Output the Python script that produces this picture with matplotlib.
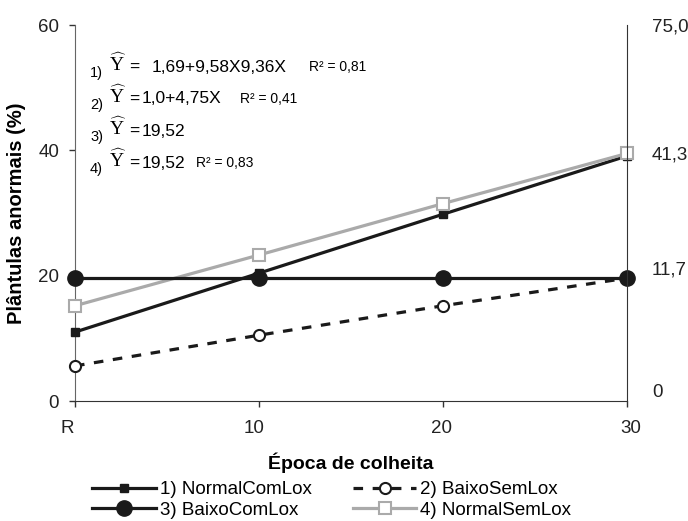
import matplotlib
matplotlib.use("Agg")
import matplotlib.pyplot as plt
import matplotlib.transforms as mtransforms

plt.rcParams['font.family'] = ['Liberation Sans', 'DejaVu Sans']
plt.rcParams['mathtext.fontset'] = 'custom'
plt.rcParams['mathtext.rm'] = 'Liberation Serif'

epocas = [0, 10, 20, 30]
xlabels = ['R', '10', '20', '30']
normal_com_lox = [11.0, 20.4, 29.8, 39.1]
baixo_sem_lox = [5.6, 10.5, 15.2, 19.6]
baixo_com_lox = [19.6, 19.6, 19.6, 19.6]
normal_sem_lox = [15.2, 23.3, 31.5, 39.5]

right_pos = [1.6, 21.2, 39.6, 60]
right_labels = ['0', '11,7', '41,3', '75,0']

numeros = ['1)', '2)', '3)', '4)']
equacoes = ['1,69+9,58X9,36X', '1,0+4,75X', '19,52', '19,52']
r2s = ['R² = 0,81', 'R² = 0,41', '', 'R² = 0,83']

W, H = 688, 521
fig = plt.figure(figsize=(W / 100, H / 100), dpi=100)
ax = fig.add_axes([75 / W, 1 - 401 / H, (627 - 75) / W, (401 - 25) / H])

l1, = ax.plot(epocas, normal_com_lox, color='#1a1a1a', lw=2.3, marker='s', ms=6,
              label='1) NormalComLox', zorder=3, clip_on=False)
l4, = ax.plot(epocas, normal_sem_lox, color='#aaaaaa', lw=2.3, marker='s', ms=9,
              mfc='white', mec='#aaaaaa', mew=1.5, label='4) NormalSemLox', zorder=4,
              clip_on=False)
l2, = ax.plot(epocas, baixo_sem_lox, color='#1a1a1a', lw=2.3, ls=(0, (3, 3)), marker='o',
              ms=8, mfc='white', mec='#1a1a1a', mew=1.5, label='2) BaixoSemLox', zorder=5,
              clip_on=False)
l3, = ax.plot(epocas, baixo_com_lox, color='#1a1a1a', lw=2.3, marker='o', ms=11,
              label='3) BaixoComLox', zorder=6, clip_on=False)

ax.set_xlim(0, 30)
ax.set_ylim(0, 60)
ax.set_xticks(epocas)
ax.set_xticklabels(xlabels)
ax.set_yticks([0, 20, 40, 60])
ax.tick_params(axis='both', direction='out', length=4.5, width=1, labelsize=13.5,
               color='#333333', labelcolor='#222222')
ax.tick_params(axis='x', pad=9)
ax.tick_params(axis='y', pad=7)
ax.spines['top'].set_visible(False)
ax.spines['right'].set_visible(False)
ax.spines['left'].set_color('#666666')
ax.spines['bottom'].set_color('#333333')

# small horizontal offsets of the x tick labels, as in the original
for lbl, dx in zip(ax.get_xticklabels(), [-8, -5, -1, 4]):
    lbl.set_transform(lbl.get_transform() + mtransforms.Affine2D().translate(dx, 0))

ax2 = ax.twinx()
ax2.set_ylim(0, 60)
ax2.set_yticks(right_pos)
ax2.set_yticklabels(right_labels)
ax2.set_yticks([60], minor=True)
ax2.tick_params(axis='y', which='major', length=0, pad=18, labelsize=13.5,
                labelcolor='#222222')
ax2.tick_params(axis='y', which='minor', length=4.5, color='#333333')
for s in ['top', 'left', 'bottom']:
    ax2.spines[s].set_visible(False)
ax2.spines['right'].set_color('#333333')

ax.set_ylabel('Plântulas anormais (%)', fontsize=14.5, fontweight='bold', labelpad=9)
ax.set_xlabel('Época de colheita', fontsize=14, fontweight='bold', labelpad=11)

txt_y = [67, 99, 131, 163]
body_x = [152, 142, 142, 142]
r2_x = [309, 240, 0, 196]
for i in range(4):
    fig.text(90 / W, 1 - (txt_y[i] + 6) / H, numeros[i], fontsize=10.5, va='center')
    fig.text(109 / W, 1 - (txt_y[i] - 3) / H, r'$\widehat{\mathrm{Y}}$', fontsize=14,
             va='center')
    fig.text(129 / W, 1 - txt_y[i] / H, '=', fontsize=12.5, va='center')
    fig.text(body_x[i] / W, 1 - txt_y[i] / H, equacoes[i], fontsize=12.5, va='center')
    if r2s[i]:
        fig.text(r2_x[i] / W, 1 - txt_y[i] / H, r2s[i], fontsize=10, va='center')

handles = [l1, l3, l2, l4]
fig.legend(handles=handles, labels=[h.get_label() for h in handles], ncol=2,
           loc='center left', bbox_to_anchor=(92 / W, 1 - 500 / H), frameon=False,
           fontsize=13.5, handlelength=3.4, handletextpad=0.2, columnspacing=2.2,
           labelspacing=0.2, borderpad=0, borderaxespad=0)

fig.savefig('out.png', dpi=100)
